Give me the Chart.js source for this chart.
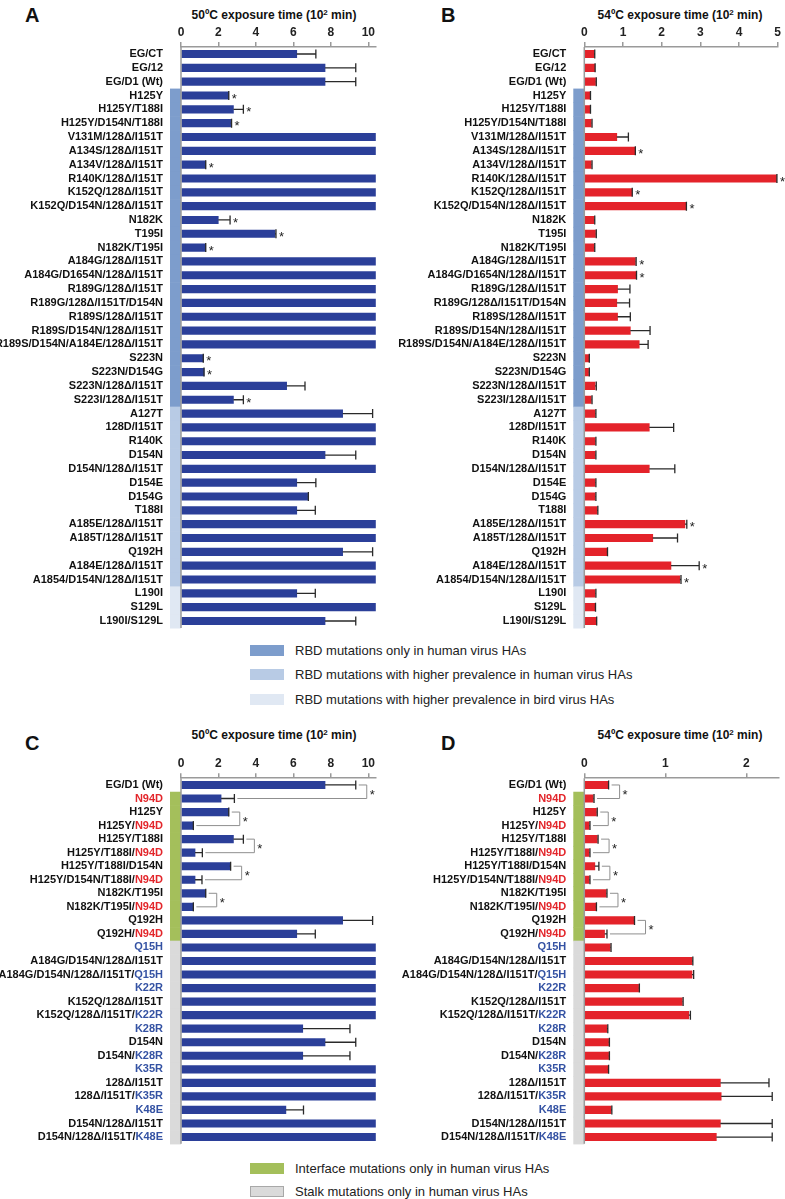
<!DOCTYPE html>
<html lang="en">
<head>
<meta charset="UTF-8">
<title>HA thermostability</title>
<script src="https://cdn.jsdelivr.net/npm/chart.js@4.4.1/dist/chart.umd.min.js"></script>
<style>
  body { margin: 0; background: #fff; font-family: "Liberation Sans", Arial, sans-serif; }
  #page { position: relative; width: 785px; height: 1199px; overflow: hidden; }
  .box, .txt, .sw { position: absolute; }
  .letter { font-weight: bold; font-size: 20px; line-height: 22px; color: #111; }
  .title { font-weight: bold; font-size: 12px; line-height: 16px; width: 240px; text-align: center; color: #111; }
  .title sup { font-size: 8px; vertical-align: 4px; line-height: 0; }
  .leg { font-size: 13px; line-height: 16px; color: #222; white-space: nowrap; }
  .sw { width: 34px; height: 11px; }
</style>
</head>
<body>
<div id="page">
  <div class="txt letter" style="left:25px;top:4px">A</div>
  <div class="txt letter" style="left:441px;top:4px">B</div>
  <div class="txt letter" style="left:25px;top:732px">C</div>
  <div class="txt letter" style="left:441px;top:732px">D</div>

  <div class="txt title" style="left:154px;top:7px">50ºC exposure time (10<sup>2</sup> min)</div>
  <div class="txt title" style="left:560px;top:7px">54ºC exposure time (10<sup>2</sup> min)</div>
  <div class="txt title" style="left:154px;top:727px">50ºC exposure time (10<sup>2</sup> min)</div>
  <div class="txt title" style="left:560px;top:727px">54ºC exposure time (10<sup>2</sup> min)</div>

  <div class="box" style="left:0;top:0"><canvas id="chartA" width="390" height="640"></canvas></div>
  <div class="box" style="left:390px;top:0"><canvas id="chartB" width="395" height="640"></canvas></div>
  <div class="box" style="left:0;top:720px"><canvas id="chartC" width="390" height="430"></canvas></div>
  <div class="box" style="left:390px;top:720px"><canvas id="chartD" width="395" height="430"></canvas></div>

  <div class="sw" style="left:250px;top:645px;background:#7d9dcc"></div>
  <div class="txt leg" style="left:295px;top:643px">RBD mutations only in human virus HAs</div>
  <div class="sw" style="left:250px;top:669px;background:#b8cbe5"></div>
  <div class="txt leg" style="left:295px;top:667px">RBD mutations with higher prevalence in human virus HAs</div>
  <div class="sw" style="left:250px;top:694px;background:#e0e8f3"></div>
  <div class="txt leg" style="left:295px;top:692px">RBD mutations with higher prevalence in bird virus HAs</div>

  <div class="sw" style="left:250px;top:1163px;background:#a4bf5b"></div>
  <div class="txt leg" style="left:295px;top:1161px">Interface mutations only in human virus HAs</div>
  <div class="sw" style="left:250px;top:1186px;width:32px;height:9px;background:#dadada;border:1px solid #a8a8a8"></div>
  <div class="txt leg" style="left:295px;top:1184px">Stalk mutations only in human virus HAs</div>
</div>

<script>
// ---- panels A / B : RBD mutants ----
const labelsA = [
  'EG/CT', 'EG/12', 'EG/D1 (Wt)', 'H125Y', 'H125Y/T188I', 'H125Y/D154N/T188I',
  'V131M/128Δ/I151T', 'A134S/128Δ/I151T', 'A134V/128Δ/I151T', 'R140K/128Δ/I151T',
  'K152Q/128Δ/I151T', 'K152Q/D154N/128Δ/I151T', 'N182K', 'T195I', 'N182K/T195I',
  'A184G/128Δ/I151T', 'A184G/D1654N/128Δ/I151T', 'R189G/128Δ/I151T',
  'R189G/128Δ/I151T/D154N', 'R189S/128Δ/I151T', 'R189S/D154N/128Δ/I151T',
  'R189S/D154N/A184E/128Δ/I151T', 'S223N', 'S223N/D154G', 'S223N/128Δ/I151T',
  'S223I/128Δ/I151T', 'A127T', '128D/I151T', 'R140K', 'D154N', 'D154N/128Δ/I151T',
  'D154E', 'D154G', 'T188I', 'A185E/128Δ/I151T', 'A185T/128Δ/I151T', 'Q192H',
  'A184E/128Δ/I151T', 'A1854/D154N/128Δ/I151T', 'L190I', 'S129L', 'L190I/S129L'
];
// 1 = only in human HAs, 2 = higher prevalence human, 3 = higher prevalence bird
const groupsA = [0, 0, 0,
  1, 1, 1, 1, 1, 1, 1, 1, 1, 1, 1, 1, 1, 1, 1, 1, 1, 1, 1, 1, 1, 1, 1,
  2, 2, 2, 2, 2, 2, 2, 2, 2, 2, 2, 2, 2,
  3, 3, 3];
const ticksA = [0, 2, 4, 6, 8, 10];
const valuesA = [
  6.18, 7.69, 7.69, 2.55, 2.80, 2.65,
  10.4, 10.4, 1.32, 10.4, 10.4, 10.4,
  1.99, 5.02, 1.32,
  10.4, 10.4, 10.4, 10.4, 10.4, 10.4, 10.4,
  1.19, 1.23, 5.64, 2.80,
  8.63, 10.4, 10.4, 7.69, 10.4,
  6.18, 6.76, 6.18,
  10.4, 10.4, 8.63, 10.4, 10.4,
  6.18, 10.4, 7.69
];
const errorsA = [
  7.20, 9.33, 9.33, 2.55, 3.33, 2.70,
  null, null, 1.32, null, null, null,
  2.62, 5.07, 1.32,
  null, null, null, null, null, null, null,
  1.19, 1.23, 6.62, 3.33,
  10.23, null, null, 9.33, null,
  7.20, 6.80, 7.17,
  null, null, 10.23, null, null,
  7.17, null, 9.33
];
const starsA = [3, 4, 5, 8, 12, 13, 14, 22, 23, 25];

const ticksB = [0, 1, 2, 3, 4, 5];
const valuesB = [
  0.25, 0.27, 0.29, 0.15, 0.15, 0.18,
  0.84, 1.31, 0.18, 4.97, 1.23, 2.63,
  0.25, 0.29, 0.25,
  1.32, 1.33, 0.86, 0.84, 0.86, 1.19, 1.42,
  0.12, 0.11, 0.28, 0.18,
  0.28, 1.68, 0.28, 0.28, 1.68,
  0.28, 0.28, 0.33,
  2.60, 1.77, 0.58, 2.24, 2.47,
  0.28, 0.27, 0.30
];
const errorsB = [
  0.27, 0.28, 0.31, 0.16, 0.16, 0.20,
  1.14, 1.32, 0.20, 4.98, 1.24, 2.64,
  0.27, 0.31, 0.27,
  1.34, 1.35, 1.18, 1.17, 1.19, 1.70, 1.65,
  0.13, 0.13, 0.31, 0.20,
  0.30, 2.31, 0.30, 0.30, 2.34,
  0.30, 0.30, 0.35,
  2.65, 2.41, 0.60, 2.97, 2.50,
  0.30, 0.29, 0.32
];
const starsB = [7, 9, 10, 11, 15, 16, 34, 37, 38];

// ---- panels C / D : interface and stalk mutants ----
const labelsC = [
  'EG/D1 (Wt)', 'N94D', 'H125Y', 'H125Y/N94D', 'H125Y/T188I', 'H125Y/T188I/N94D',
  'H125Y/T188I/D154N', 'H125Y/D154N/T188I/N94D', 'N182K/T195I', 'N182K/T195I/N94D',
  'Q192H', 'Q192H/N94D', 'Q15H', 'A184G/D154N/128Δ/I151T', 'A184G/D154N/128Δ/I151T/Q15H',
  'K22R', 'K152Q/128Δ/I151T', 'K152Q/128Δ/I151T/K22R', 'K28R', 'D154N', 'D154N/K28R',
  'K35R', '128Δ/I151T', '128Δ/I151T/K35R', 'K48E', 'D154N/128Δ/I151T', 'D154N/128Δ/I151T/K48E'
];
// 4 = interface, 5 = stalk
const groupsC = [0,
  4, 4, 4, 4, 4, 4, 4, 4, 4, 4, 4,
  5, 5, 5, 5, 5, 5, 5, 5, 5, 5, 5, 5, 5, 5, 5];
const ticksC = [0, 2, 4, 6, 8, 10];
const valuesC = [
  7.69, 2.14, 2.55, 0.66, 2.80, 0.75, 2.60, 0.75, 1.32, 0.66, 8.63, 6.18,
  10.4, 10.4, 10.4, 10.4, 10.4, 10.4, 6.50, 7.69, 6.50, 10.4, 10.4, 10.4, 5.60, 10.4, 10.4
];
const errorsC = [
  9.33, 2.85, 2.55, 0.66, 3.33, 1.14, 2.65, 1.12, 1.32, 0.66, 10.23, 7.17,
  null, null, null, null, null, null, 9.02, 9.33, 9.02, null, null, null, 6.54, null, null
];
const pairsC = [[0, 1], [2, 3], [4, 5], [6, 7], [8, 9]];

const ticksD = [0, 1, 2];
const valuesD = [
  0.30, 0.11, 0.15, 0.06, 0.16, 0.06, 0.13, 0.06, 0.27, 0.14, 0.61, 0.25,
  0.32, 1.33, 1.33, 0.67, 1.21, 1.29, 0.28, 0.30, 0.30, 0.29, 1.68, 1.69, 0.33, 1.68, 1.63
];
const errorsD = [
  0.30, 0.12, 0.16, 0.07, 0.17, 0.07, 0.18, 0.07, 0.28, 0.15, 0.62, 0.28,
  0.33, 1.34, 1.35, 0.68, 1.22, 1.31, 0.29, 0.31, 0.31, 0.30, 2.28, 2.32, 0.34, 2.32, 2.32
];
const pairsD = [[0, 1], [2, 3], [4, 5], [6, 7], [8, 9], [10, 11]];

const FONT = '"Liberation Sans", Arial, sans-serif';
const stripColors = { 1: '#7d9dcc', 2: '#b8cbe5', 3: '#e0e8f3', 4: '#a4bf5b', 5: '#dadada' };
const blueMuts = ['Q15H', 'K22R', 'K28R', 'K35R', 'K48E'];

// row labels, group strips, error bars, stars and brackets
const decor = {
  id: 'decor',
  afterDatasetsDraw(chart, args, o) {
    const { ctx, chartArea: ca, scales: { x, y } } = chart;
    const vals = chart.data.datasets[0].data;
    const band = (ca.bottom - ca.top) / o.labels.length;
    const ex = i => x.getPixelForValue(o.errors[i] ?? vals[i]);
    ctx.save();

    o.groups.forEach((g, i) => {
      if (!g) return;
      const yc = y.getPixelForValue(i);
      ctx.fillStyle = stripColors[g];
      ctx.fillRect(ca.left - 11, yc - band / 2, 11, band + 0.6);
    });
    ctx.strokeStyle = '#9a9a9a';
    ctx.lineWidth = 1.5;
    ctx.beginPath();
    ctx.moveTo(ca.left, ca.top);
    ctx.lineTo(ca.left, ca.bottom);
    ctx.stroke();

    ctx.font = 'bold 11px ' + FONT;
    ctx.textBaseline = 'middle';
    ctx.textAlign = 'left';
    o.labels.forEach((lab, i) => {
      const yc = y.getPixelForValue(i);
      const parts = lab.split(/(N94D|Q15H|K22R|K28R|K35R|K48E)/).filter(Boolean);
      const w = parts.reduce((s, p) => s + ctx.measureText(p).width, 0);
      let tx = ca.left - 18 - w;
      parts.forEach(p => {
        ctx.fillStyle = p === 'N94D' ? '#e3262b' : blueMuts.includes(p) ? '#3452a3' : '#111';
        ctx.fillText(p, tx, yc);
        tx += ctx.measureText(p).width;
      });
    });

    ctx.strokeStyle = '#2a2a2a';
    ctx.lineWidth = 1.3;
    o.errors.forEach((e, i) => {
      if (e == null) return;
      const yc = y.getPixelForValue(i);
      const x0 = x.getPixelForValue(vals[i]);
      const x1 = x.getPixelForValue(e);
      ctx.beginPath();
      ctx.moveTo(x0, yc);
      ctx.lineTo(x1, yc);
      ctx.moveTo(x1, yc - 4.5);
      ctx.lineTo(x1, yc + 4.5);
      ctx.stroke();
    });

    ctx.font = '13px ' + FONT;
    ctx.fillStyle = '#222';
    (o.stars || []).forEach(i => {
      ctx.fillText('*', ex(i) + 3, y.getPixelForValue(i) + 3.5);
    });

    ctx.strokeStyle = '#8f8f8f';
    ctx.lineWidth = 1;
    (o.pairs || []).forEach(([a, b]) => {
      const ya = y.getPixelForValue(a), yb = y.getPixelForValue(b);
      const xa = ex(a), xb = ex(b);
      const bx = Math.max(xa, xb) + 11;
      ctx.beginPath();
      ctx.moveTo(xa + 3, ya);
      ctx.lineTo(bx, ya);
      ctx.lineTo(bx, yb);
      ctx.lineTo(xb + 3, yb);
      ctx.stroke();
      ctx.fillText('*', bx + 3, (ya + yb) / 2 + 3.5);
    });
    ctx.restore();
  }
};

function makeChart(id, cfg) {
  return new Chart(document.getElementById(id), {
    type: 'bar',
    data: {
      labels: cfg.labels,
      datasets: [{ data: cfg.values, backgroundColor: cfg.color, barThickness: 7.5 }]
    },
    options: {
      indexAxis: 'y',
      responsive: false,
      animation: false,
      layout: { padding: { left: cfg.left, right: cfg.right, top: 0, bottom: cfg.bottom } },
      plugins: {
        legend: { display: false },
        tooltip: { enabled: false },
        decor: cfg
      },
      scales: {
        x: {
          position: 'top',
          min: 0,
          max: cfg.max,
          afterFit: s => { s.height = cfg.axisH; },
          afterBuildTicks: s => { s.ticks = cfg.ticks.map(v => ({ value: v })); },
          grid: { drawOnChartArea: false, tickLength: 5, color: '#9a9a9a', lineWidth: 1.5 },
          border: { color: '#9a9a9a', width: 1.5 },
          ticks: { font: { family: FONT, size: 12, weight: 'bold' }, color: '#222', padding: 2 }
        },
        y: { display: false }
      }
    },
    plugins: [decor]
  });
}

makeChart('chartA', {
  labels: labelsA, values: valuesA, errors: errorsA, stars: starsA, groups: groupsA,
  ticks: ticksA, max: 10.4, color: '#2b3f99', left: 181, right: 14.2, bottom: 12.1, axisH: 47.1
});
makeChart('chartB', {
  labels: labelsA, values: valuesB, errors: errorsB, stars: starsB, groups: groupsA,
  ticks: ticksB, max: 5, color: '#e4232a', left: 194.3, right: 7.3, bottom: 12.1, axisH: 47.1
});
makeChart('chartC', {
  labels: labelsC, values: valuesC, errors: errorsC, pairs: pairsC, groups: groupsC,
  ticks: ticksC, max: 10.4, color: '#2b3f99', left: 181, right: 14.2, bottom: 6.2, axisH: 58.2
});
makeChart('chartD', {
  labels: labelsC, values: valuesD, errors: errorsD, pairs: pairsD, groups: groupsC,
  ticks: ticksD, max: 2.4, color: '#e4232a', left: 194.3, right: 6.3, bottom: 6.2, axisH: 58.2
});
</script>
</body>
</html>
